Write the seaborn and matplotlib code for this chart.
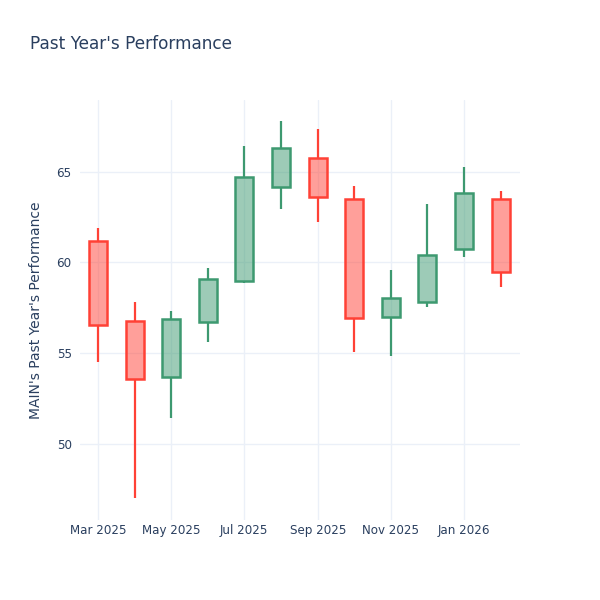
import pandas as pd
import seaborn as sns
import matplotlib.pyplot as plt
import matplotlib.dates as mdates

# Monthly candles
months = pd.date_range('2025-03-01', periods=12, freq='MS')
open_px = [61.15, 56.78, 53.68, 56.69, 58.98, 64.17, 65.76, 63.50, 56.98, 57.81, 60.75, 63.50]
close_px = [56.53, 53.55, 56.87, 59.08, 64.71, 66.28, 63.60, 56.91, 58.03, 60.38, 63.80, 59.45]
high_px = [61.87, 57.83, 57.33, 59.70, 66.40, 67.78, 67.34, 64.20, 59.57, 63.21, 65.23, 63.94]
low_px = [54.52, 47.00, 51.44, 55.60, 58.87, 62.95, 62.22, 55.04, 54.83, 57.55, 60.27, 58.64]

df = pd.DataFrame({'date': months, 'open': open_px, 'close': close_px,
                   'high': high_px, 'low': low_px})
df['up'] = df['close'] >= df['open']
df['top'] = df[['open', 'close']].max(axis=1)
df['bottom'] = df[['open', 'close']].min(axis=1)

sns.set_theme(style='white')
plt.rcParams['font.family'] = ['DejaVu Sans']
text_color = '#2a3f5f'
inc, dec = '#3D9970', '#FF4136'

fig = plt.figure(figsize=(6, 6), dpi=100)
ax = fig.add_axes([80 / 600, 80 / 600, 440 / 600, 420 / 600])

box_w = pd.Timedelta(days=15)
for _, r in df.iterrows():
    c = inc if r['up'] else dec
    ax.vlines(r['date'], r['top'], r['high'], color=c, lw=1.6, zorder=3)
    ax.vlines(r['date'], r['low'], r['bottom'], color=c, lw=1.6, zorder=3)
    ax.bar(r['date'], r['top'] - r['bottom'], bottom=r['bottom'], width=box_w,
           color=c, alpha=0.5, zorder=2, linewidth=0)
    ax.bar(r['date'], r['top'] - r['bottom'], bottom=r['bottom'], width=box_w,
           facecolor='none', edgecolor=c, linewidth=1.8, zorder=3)

ax.set_xlim(pd.Timestamp('2025-02-14'), pd.Timestamp('2026-02-17'))
ax.set_ylim(45.8, 68.94)
ax.set_yticks([50, 55, 60, 65])
ax.xaxis.set_major_locator(mdates.MonthLocator(bymonth=[1, 3, 5, 7, 9, 11]))
ax.xaxis.set_major_formatter(mdates.DateFormatter('%b %Y'))

ax.grid(True, color='#EBF0F8', lw=1)
ax.set_axisbelow(True)
for s in ax.spines.values():
    s.set_visible(False)
ax.tick_params(length=0, labelsize=8.6, colors=text_color)
ax.tick_params(axis='x', pad=3)
ax.tick_params(axis='y', pad=6)

ax.set_ylabel("MAIN's Past Year's Performance", fontsize=10, color=text_color, labelpad=10)
fig.text(30 / 600, 1 - 44 / 600, "Past Year's Performance", fontsize=12.2,
         color=text_color, va='center', ha='left')

fig.savefig('out.png', dpi=100, facecolor='white')
